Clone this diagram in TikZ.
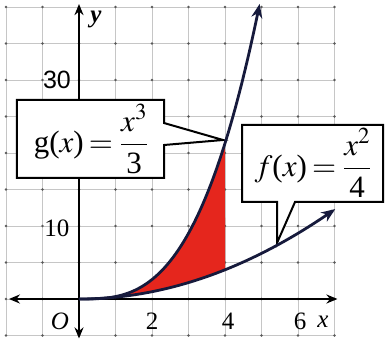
\documentclass[tikz,border=0pt]{standalone}
\usepackage{mathptmx}
\usepackage[no-math]{fontspec}
\setmainfont{Liberation Serif}
\newfontfamily\lserif{Liberation Serif}
\newfontfamily\lsans{Liberation Sans}
\usetikzlibrary{arrows.meta}
\definecolor{navy}{HTML}{161A3C}
\definecolor{fillred}{HTML}{E5261D}
\begin{document}
\begin{tikzpicture}[x=36.5pt,y=7.3pt,
  gridline/.style={gray!45,line width=0.7pt},
  griddot/.style={fill=gray!70!black},
  axis/.style={line width=2.6pt,{Stealth[length=11pt,width=9pt]}-{Stealth[length=11pt,width=9pt]}},
  curve/.style={draw=navy,line width=2.8pt,-{Stealth[length=14pt,width=11pt]}},
  callout/.style={draw=black,fill=white,line width=2pt,line join=miter},
  boxtext/.style={inner sep=0pt,font=\lserif\fontsize{31}{33}\selectfont},
  lbl/.style={inner sep=0pt,font=\lserif\fontsize{25}{27}\selectfont},
  sanslbl/.style={inner sep=0pt,font=\lsans\fontsize{25}{27}\selectfont}]
\useasboundingbox (-79pt,-43pt) rectangle (306pt,299pt);
% grid
\foreach \i in {-2,...,7} \draw[gridline] (\i,-5) -- (\i,40);
\foreach \j in {-5,0,...,40} \draw[gridline] (-2,\j) -- (7,\j);
\foreach \i in {-2,...,7} \foreach \j in {-5,0,...,40} \fill[griddot] (\i,\j) circle (1.3pt);
% shaded region
\fill[fillred] plot[domain=0.75:4,samples=40,smooth] (\x,{\x*\x*\x/3}) -- plot[domain=4:0.75,samples=40,smooth] (\x,{\x*\x/4}) -- cycle;
% axes
\coordinate (xl) at (-1.92,0);
\coordinate (xr) at (7.08,0);
\coordinate (yb) at (0,-5.4);
\coordinate (yt) at (0,40.4);
\draw[axis] (xl) -- (xr);
\draw[axis] (yb) -- (yt);
% callout boxes
\draw[callout] (-62pt,199pt) -- (85pt,199pt) -- (85pt,176pt) -- (144pt,159pt) -- (85pt,154pt) -- (85pt,121pt) -- (-62pt,121pt) -- cycle;
\draw[callout] (163pt,174pt) -- (304pt,174pt) -- (304pt,97pt) -- (216pt,97pt) -- (198pt,56pt) -- (198pt,97pt) -- (163pt,97pt) -- cycle;
% curves
\draw[curve] plot[domain=0:4.95,samples=60,smooth] (\x,{\x*\x*\x/3});
\draw[curve] plot[domain=0:7.02,samples=60,smooth] (\x,{\x*\x/4});
% box texts
\node[boxtext] (gtext) at (12pt,160pt) {g($x$)\,$=\displaystyle\frac{x^{3}}{\mbox{3}}$};
\node[boxtext] (ftext) at (234pt,136pt) {$f$($x$)\,$=\displaystyle\frac{x^{2}}{\mbox{4}}$};
% labels
\node[lbl] (ylab) at (17pt,280pt) {\textbf{\textit{y}}};
\node[lbl] (xlab) at (244pt,-23pt) {\textit{x}};
\node[lbl] (olab) at (-19pt,-22pt) {\textit{O}};
\node[lbl] (l2) at (73pt,-22pt) {2};
\node[lbl] (l4) at (149pt,-22pt) {4};
\node[lbl] (l6) at (221pt,-22pt) {6};
\node[lbl] (l10) at (-22pt,71pt) {10};
\node[sanslbl] (l30) at (-22pt,219pt) {30};
\end{tikzpicture}
\end{document}
